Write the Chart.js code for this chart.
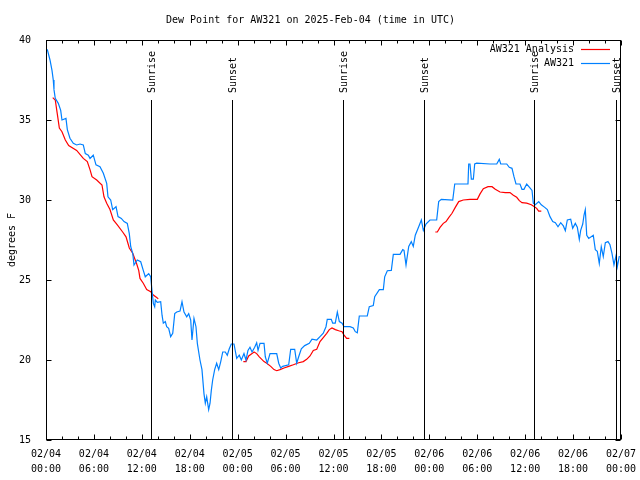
<!DOCTYPE html>
<html>
<head>
<meta charset="utf-8">
<title>Dew Point for AW321</title>
<script src="https://cdn.jsdelivr.net/npm/chart.js@4/dist/chart.umd.min.js"></script>
<style>
  html, body { margin: 0; padding: 0; background: #fff; }
  #wrap { width: 640px; height: 480px; }
</style>
</head>
<body>
<div id="wrap"><canvas id="dewChart" width="640" height="480"></canvas></div>
<script>
// hours since 2025-02-04 00:00 UTC
const obsHours = [
  0.16, 0.5, 0.75, 0.91, 1.0, 1.16, 1.54, 1.84, 2.0, 2.5, 2.67, 3.0, 3.42, 3.84, 4.26, 4.67,
  4.92, 5.3, 5.51, 5.92, 6.26, 6.76, 7.18, 7.6, 7.76, 8.1, 8.35, 8.77, 9.02, 9.43, 9.77, 10.18,
  10.43, 10.61, 10.86, 11.02, 11.43, 11.86, 12.18, 12.43, 12.86, 13.11, 13.28, 13.44, 13.61, 13.69,
  13.94, 14.36, 14.53, 14.69, 14.94, 15.11, 15.36, 15.61, 15.87, 16.12, 16.37, 16.78, 17.03, 17.28,
  17.62, 17.87, 18.12, 18.28, 18.53, 18.78, 18.95, 19.28, 19.53, 19.78, 19.95, 20.12, 20.37, 20.54,
  20.7, 20.87, 21.12, 21.37, 21.63, 21.88, 22.13, 22.45, 22.7, 22.95, 23.2, 23.54, 23.88, 24.2,
  24.46, 24.79, 25.04, 25.29, 25.54, 25.8, 26.13, 26.38, 26.55, 26.8, 27.3, 27.46, 27.71, 28.05,
  28.89, 29.14, 29.39, 29.64, 30.39, 30.64, 31.14, 31.39, 31.64, 31.97, 32.39, 32.97, 33.31, 33.9,
  34.31, 34.72, 35.06, 35.22, 35.72, 35.9, 36.22, 36.48, 36.73, 37.07, 37.32, 38.07, 38.48, 38.73,
  38.98, 39.23, 40.23, 40.48, 40.98, 41.16, 41.74, 42.24, 42.41, 42.74, 43.24, 43.49, 44.33, 44.67,
  44.83, 45.08, 45.42, 45.74, 45.99, 46.24, 46.67, 47.0, 47.25, 47.58, 48.08, 48.92, 49.17, 49.5,
  50.93, 51.18, 52.84, 52.93, 53.09, 53.26, 53.51, 53.68, 53.93, 55.6, 56.44, 56.76, 56.94, 57.69,
  58.01, 58.35, 58.6, 58.85, 59.35, 59.6, 59.85, 60.19, 60.52, 60.86, 61.02, 61.27, 61.7, 62.02,
  62.45, 62.78, 63.11, 63.45, 63.78, 64.11, 64.45, 64.78, 65.03, 65.28, 65.7, 65.95, 66.28, 66.53,
  66.78, 66.95, 67.21, 67.37, 67.53, 67.71, 67.96, 68.53, 68.78, 69.03, 69.28, 69.53, 69.78, 70.04,
  70.37, 70.62, 70.87, 71.12, 71.37, 71.54, 71.79
];
const obsDew = [
  39.42, 38.75, 38.1, 37.5, 36.9, 36.35, 36.04, 35.6, 35.0, 35.1, 34.4, 33.86, 33.54, 33.44, 33.5, 33.44,
  32.9, 32.8, 32.6, 32.8, 32.2, 32.08, 31.67, 31.04, 30.2, 30.0, 29.4, 29.58, 28.96, 28.85, 28.65, 28.54,
  27.9, 27.08, 26.67, 25.94, 26.25, 26.14, 25.6, 25.2, 25.4, 25.2, 24.3, 23.54, 23.33, 23.75,
  23.6, 23.64, 22.8, 22.3, 22.4, 22.08, 21.98, 21.46, 21.67, 22.9, 23.0, 23.06, 23.64, 23.0,
  22.7, 22.9, 22.5, 21.25, 22.6, 22.08, 21.04, 20.0, 19.4, 17.9, 17.3, 17.7, 16.9, 17.3,
  18.1, 18.75, 19.4, 19.8, 19.4, 19.9, 20.5, 20.5, 20.3, 20.7, 21.0, 21.0, 20.1, 20.3,
  20.0, 20.4, 20.0, 20.6, 20.8, 20.5, 20.8, 21.08, 20.6, 21.04, 21.04, 20.2, 19.8, 20.4,
  20.4, 19.8, 19.5, 19.6, 19.7, 20.67, 20.67, 19.8, 20.2, 20.7, 20.9, 21.04, 21.3, 21.25,
  21.46, 21.67, 22.08, 22.54, 22.54, 22.3, 22.3, 23.0, 22.4, 22.3, 22.08, 22.08, 22.0, 21.77,
  21.7, 22.75, 22.75, 23.33, 23.4, 23.96, 24.4, 24.4, 25.2, 25.58, 25.6, 26.6, 26.6, 26.9,
  26.85, 25.94, 27.1, 27.4, 27.1, 27.8, 28.33, 28.75, 28.1, 28.5, 28.75, 28.75, 29.9, 30.04,
  30.0, 31.0, 31.0, 32.25, 32.25, 31.3, 31.3, 32.25, 32.3, 32.25, 32.25, 32.54, 32.25, 32.25,
  32.04, 31.98, 31.46, 31.0, 31.0, 30.67, 30.67, 31.0, 30.8, 30.6, 29.8, 29.7, 29.9, 29.7,
  29.54, 29.4, 28.96, 28.65, 28.58, 28.33, 28.58, 28.38, 28.08, 28.75, 28.8, 28.23, 28.54, 28.3,
  27.54, 28.1, 28.5, 29.06, 29.4, 27.8, 27.6, 27.8, 26.9, 26.8, 26.04, 27.08, 26.46, 27.33,
  27.4, 27.2, 26.67, 25.94, 26.5, 25.83, 26.5
];

// analysis series, null marks a gap between runs
const anaHours = [
  0.84, 1.16, 1.41, 1.67, 2.0, 2.42, 2.84, 3.84, 4.67, 5.17, 5.51, 5.76, 6.35, 7.01, 7.26, 7.6,
  8.01, 8.43, 8.93, 9.6, 10.02, 10.43, 10.86, 11.36, 11.61, 11.77, 12.18, 12.61, 13.11, 13.44,
  13.86, 14.06,
  19.0,
  24.71, 25.04, 25.38, 25.8, 26.05, 26.38, 26.71, 27.3, 27.64, 28.14, 28.55, 28.89, 29.3, 29.8,
  30.39, 30.97, 31.64, 32.22, 32.64, 33.06, 33.47, 33.9, 34.31, 34.72, 35.15, 35.47, 35.81, 36.23,
  36.65, 37.07, 37.32, 37.65, 37.98,
  43.0,
  48.75, 49.0, 49.34, 49.75, 50.09, 50.43, 50.84, 51.25, 51.68, 52.25, 53.09, 54.01, 54.35, 54.76,
  55.35, 55.85, 56.26, 56.85, 57.51, 58.1, 58.52, 58.94, 59.27, 59.6, 60.19, 60.77, 61.11, 61.44,
  61.69, 62.02
];
const anaDew = [
  36.4, 36.25, 35.4, 34.5, 34.27, 33.75, 33.4, 33.1, 32.6, 32.4, 31.9, 31.46, 31.25, 30.94, 30.2, 29.8,
  29.4, 28.75, 28.44, 28.0, 27.7, 27.0, 26.67, 26.0, 25.6, 25.1, 24.8, 24.4, 24.27, 24.06,
  23.9, 23.83,
  null,
  19.9, 19.9, 20.25, 20.4, 20.5, 20.4, 20.2, 19.9, 19.8, 19.6, 19.4, 19.33, 19.4, 19.5,
  19.6, 19.7, 19.83, 19.9, 20.04, 20.25, 20.6, 20.67, 21.15, 21.4, 21.67, 21.9, 22.0, 21.9,
  21.83, 21.77, 21.56, 21.35, 21.35,
  null,
  28.0, 28.0, 28.29, 28.54, 28.65, 28.9, 29.17, 29.54, 29.9, 30.0, 30.04, 30.04, 30.38, 30.7,
  30.83, 30.83, 30.67, 30.5, 30.46, 30.46, 30.3, 30.17, 29.96, 29.83, 29.8, 29.7, 29.6, 29.48,
  29.3, 29.3
];

const eventHours = [13.2, 23.33, 37.22, 47.27, 61.15, 71.35];
const eventNames = ["Sunrise", "Sunset", "Sunrise", "Sunset", "Sunrise", "Sunset"];

const xTickDates = ["02/04", "02/04", "02/04", "02/04", "02/05", "02/05", "02/05", "02/05",
                    "02/06", "02/06", "02/06", "02/06", "02/07"];
const xTickTimes = ["00:00", "06:00", "12:00", "18:00", "00:00", "06:00", "12:00", "18:00",
                    "00:00", "06:00", "12:00", "18:00", "00:00"];

const FONT = "'DejaVu Sans Mono', 'Liberation Mono', monospace";
const RED = "#ff0000";
const BLUE = "#0080ff";

function toPoints(xs, ys) {
  return xs.map((x, i) => ({ x: x, y: ys[i] }));
}

// frame, inward ticks, sunrise/sunset markers and key
const decorations = {
  id: "decorations",
  afterDatasetsDraw(chart) {
    const { ctx, chartArea: a, scales: { x, y } } = chart;
    const L = Math.round(a.left) + 0.5, R = Math.round(a.right) - 0.5;
    const T = Math.round(a.top) + 0.5, B = Math.round(a.bottom) - 0.5;
    ctx.save();
    ctx.strokeStyle = "#000";
    ctx.lineWidth = 1;

    // event lines
    ctx.beginPath();
    eventHours.forEach((h) => {
      const px = Math.round(x.getPixelForValue(h)) + 0.5;
      ctx.moveTo(px, 100);
      ctx.lineTo(px, B);
    });
    ctx.stroke();

    // box
    ctx.strokeRect(L, T, R - L, B - T);

    // ticks
    ctx.beginPath();
    for (let h = 0; h <= 72; h += 2) {
      const px = Math.round(x.getPixelForValue(h)) + 0.5;
      const len = h % 6 === 0 ? 5 : 3;
      ctx.moveTo(px, B); ctx.lineTo(px, B - len);
      ctx.moveTo(px, T); ctx.lineTo(px, T + len);
    }
    for (let v = 15; v <= 40; v += 5) {
      const py = Math.round(y.getPixelForValue(v)) + 0.5;
      ctx.moveTo(L, py); ctx.lineTo(L + 5, py);
      ctx.moveTo(R, py); ctx.lineTo(R - 5, py);
    }
    ctx.stroke();

    // key
    ctx.font = "10px " + FONT;
    ctx.fillStyle = "#000";
    ctx.textAlign = "right";
    ctx.textBaseline = "middle";
    const keys = [["AW321 Analysis", RED, 49], ["AW321", BLUE, 63]];
    keys.forEach(([label, color, ky]) => {
      ctx.fillText(label, 574, ky);
      ctx.strokeStyle = color;
      ctx.lineWidth = 1.2;
      ctx.beginPath();
      ctx.moveTo(581, ky + 0.5);
      ctx.lineTo(610, ky + 0.5);
      ctx.stroke();
    });

    // event labels, reading upward
    ctx.textAlign = "left";
    ctx.textBaseline = "middle";
    eventHours.forEach((h, i) => {
      const px = Math.round(x.getPixelForValue(h)) + 1;
      ctx.save();
      ctx.translate(px, 93);
      ctx.rotate(-Math.PI / 2);
      ctx.fillText(eventNames[i], 0, 0);
      ctx.restore();
    });
    ctx.restore();
  }
};

const ctx = document.getElementById("dewChart").getContext("2d");
new Chart(ctx, {
  type: "line",
  data: {
    datasets: [
      {
        label: "AW321",
        data: toPoints(obsHours, obsDew),
        borderColor: BLUE,
        borderWidth: 1.2,
        pointRadius: 0,
        tension: 0,
      },
      {
        label: "AW321 Analysis",
        data: toPoints(anaHours, anaDew),
        borderColor: RED,
        borderWidth: 1.2,
        pointRadius: 0,
        tension: 0,
        spanGaps: false,
      },
    ],
  },
  options: {
    responsive: false,
    animation: false,
    layout: { padding: { left: 0, right: 19, top: 0, bottom: 0 } },
    plugins: {
      legend: { display: false },
      tooltip: { enabled: false },
      title: {
        display: true,
        text: "Dew Point for AW321 on 2025-Feb-04 (time in UTC)",
        color: "#000",
        font: { family: FONT, size: 10, weight: "normal" },
        padding: { top: 14, bottom: 14 },
      },
    },
    scales: {
      x: {
        type: "linear",
        min: 0,
        max: 72,
        afterFit: (s) => { s.height = 40; },
        grid: { display: false },
        border: { display: false },
        ticks: {
          stepSize: 6,
          autoSkip: false,
          maxRotation: 0,
          padding: -1,
          color: "#000",
          font: { family: FONT, size: 10, lineHeight: 1.5 },
          callback: (v) => [xTickDates[v / 6], xTickTimes[v / 6]],
        },
      },
      y: {
        min: 15,
        max: 40,
        afterFit: (s) => { s.width = 46; },
        grid: { display: false },
        border: { display: false },
        ticks: {
          stepSize: 5,
          padding: 7,
          color: "#000",
          font: { family: FONT, size: 10 },
        },
        title: {
          display: true,
          text: "degrees F",
          color: "#000",
          font: { family: FONT, size: 10 },
          padding: { top: 6, bottom: 0 },
        },
      },
    },
  },
  plugins: [decorations],
});
</script>
</body>
</html>
